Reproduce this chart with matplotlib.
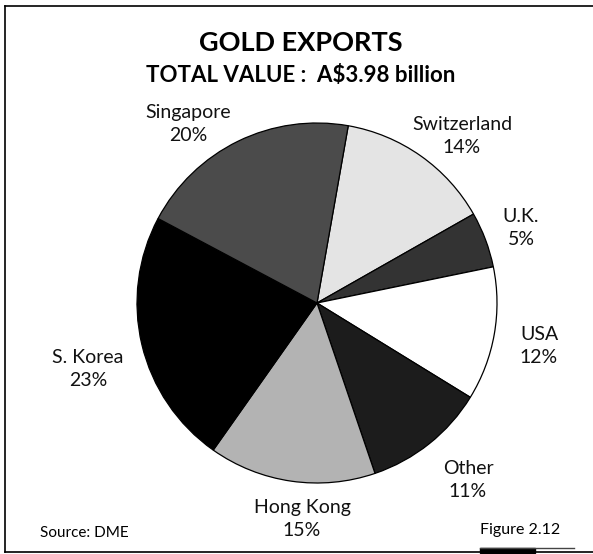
#!/usr/bin/env python3
"""Gold exports by destination, pie chart."""

import matplotlib
matplotlib.use("Agg")
import matplotlib.pyplot as plt
from matplotlib.lines import Line2D
from matplotlib.patches import Rectangle
from matplotlib import font_manager

W, H = 593, 554

countries = ["Switzerland", "U.K.", "USA", "Other", "Hong Kong", "S. Korea", "Singapore"]
shares = [14, 5, 12, 11, 15, 23, 20]
colours = ["#e4e4e4", "#333333", "#ffffff", "#1c1c1c", "#b3b3b3", "#000000", "#4b4b4b"]

# label anchor points in pixels (from top-left)
label_xy = {
    "Switzerland": (462, 136),
    "U.K.": (521, 228),
    "USA": (539, 346),
    "Other": (468, 480),
    "Hong Kong": (302, 519),
    "S. Korea": (88, 369),
    "Singapore": (188, 124),
}


def pick_font(names):
    installed = {f.name for f in font_manager.fontManager.ttflist}
    for name in names:
        if name in installed:
            return name
    return "DejaVu Sans"


label_font = pick_font(["Lato", "Open Sans", "DejaVu Sans"])
title_font = pick_font(["Lato", "Open Sans", "DejaVu Sans"])


def fx(x):
    return x / W


def fy(y):
    return 1 - y / H


fig = plt.figure(figsize=(W / 100, H / 100), dpi=100)

cx, cy, r = 317, 303, 180
ax = fig.add_axes([fx(cx - r), fy(cy + r), 2 * r / W, 2 * r / H])
ax.pie(
    shares,
    colors=colours,
    startangle=80,
    counterclock=False,
    wedgeprops={"edgecolor": "black", "linewidth": 0.9},
)
ax.set_xlim(-1, 1)
ax.set_ylim(-1, 1)
ax.set_aspect("equal")
ax.axis("off")

for name, share in zip(countries, shares):
    x, y = label_xy[name]
    fig.text(fx(x), fy(y), f"{name}\n{share}%", ha="center", va="center",
             fontsize=14, family=label_font, linespacing=1.4, color="#111111")

fig.text(fx(301), fy(43), "GOLD EXPORTS", ha="center", va="center",
         fontsize=19.5, fontweight="bold", family=title_font)
fig.text(fx(301), fy(75), "TOTAL VALUE :  A$3.98 billion", ha="center", va="center",
         fontsize=16, fontweight="bold", family=title_font)

fig.text(fx(40), fy(533), "Source: DME", ha="left", va="center",
         fontsize=11, family=label_font)
fig.text(fx(480), fy(530), "Figure 2.12", ha="left", va="center",
         fontsize=11.5, family=label_font)

# frame: top, left and bottom rules
fig.add_artist(Line2D([fx(5), 1], [fy(6), fy(6)], color="black", lw=1.2))
fig.add_artist(Line2D([fx(5), fx(5)], [fy(6), fy(552)], color="black", lw=1.2))
fig.add_artist(Line2D([fx(5), 1], [fy(552), fy(552)], color="black", lw=1.2))
fig.add_artist(Line2D([fx(480), fx(574)], [fy(547.5), fy(547.5)], color="#444444", lw=1))
fig.add_artist(Rectangle((fx(480), fy(553)), fx(55), 5 / H, color="black",
                         transform=fig.transFigure))

fig.savefig("out.png", dpi=100)
